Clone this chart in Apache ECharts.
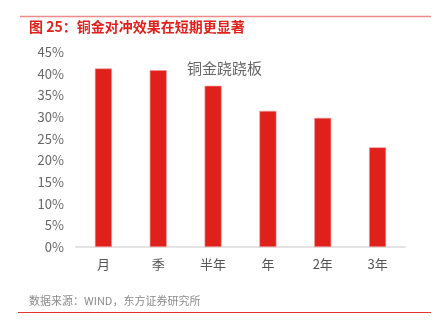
<!DOCTYPE html>
<html>
<head>
<meta charset="utf-8">
<script src="https://cdn.jsdelivr.net/npm/echarts@6/dist/echarts.min.js"></script>
<style>
  html, body { margin: 0; padding: 0; background: #fff; }
  #chart { width: 441px; height: 330px; }
</style>
</head>
<body>
<div id="chart"></div>
<script>
// Hedging horizons and copper-gold seesaw effectiveness (%)
const categories = ['月', '季', '半年', '年', '2年', '3年'];
const seesawValues = [41.2, 40.8, 37.2, 31.4, 29.8, 23.0];
const seriesName = '铜金跷跷板';
const titleText = '图 25：铜金对冲效果在短期更显著';
const sourceText = '数据来源：WIND，东方证券研究所';

const FONT = '"Noto Sans CJK SC", "Noto Sans", sans-serif';
const chart = echarts.init(document.getElementById('chart'), null, { renderer: 'canvas' });

chart.setOption({
  animation: false,
  backgroundColor: '#ffffff',
  textStyle: { fontFamily: FONT },
  title: {
    text: titleText,
    left: 24,
    top: 15,
    textStyle: { color: '#e0201b', fontSize: 14, fontWeight: 'bold', fontFamily: FONT }
  },
  legend: {
    data: [seriesName],
    left: 181,
    top: 56,
    icon: 'rect',
    itemWidth: 0,
    itemHeight: 0,
    itemGap: 0,
    textStyle: { color: '#666666', fontSize: 15, fontFamily: FONT, padding: [0, 0, 0, -5] }
  },
  graphic: [
    { type: 'line', shape: { x1: 20, y1: 16.5, x2: 431, y2: 16.5 },
      style: { stroke: '#f08a88', lineWidth: 1.5 } },
    { type: 'line', shape: { x1: 18, y1: 312.5, x2: 431, y2: 312.5 },
      style: { stroke: '#e8342e', lineWidth: 1.2 } },
    { type: 'text', left: 29, top: 295,
      style: { text: sourceText, fill: '#8a8a8a', fontSize: 11, fontFamily: FONT } }
  ],
  grid: { left: 76, top: 52, width: 329, height: 195, containLabel: false },
  xAxis: {
    type: 'category',
    data: categories,
    axisLine: { lineStyle: { color: '#e3e3e3', width: 2 } },
    axisTick: { show: false },
    axisLabel: { color: '#555555', fontSize: 13, margin: 11, fontFamily: FONT }
  },
  yAxis: {
    type: 'value',
    min: 0,
    max: 45,
    interval: 5,
    axisLine: { show: false },
    axisTick: { show: false },
    splitLine: { show: false },
    axisLabel: { color: '#666666', fontSize: 13, margin: 12, formatter: '{value}%', fontFamily: FONT }
  },
  series: [{
    name: seriesName,
    type: 'bar',
    data: seesawValues,
    barWidth: 17,
    itemStyle: { color: '#e0201b', borderColor: '#f09a98', borderWidth: 0.6 }
  }]
});
</script>
</body>
</html>
